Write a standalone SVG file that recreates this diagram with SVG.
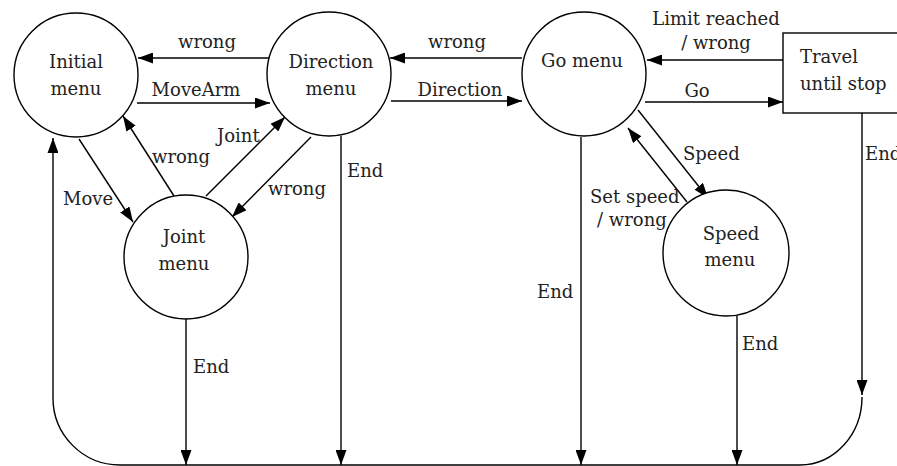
<svg xmlns="http://www.w3.org/2000/svg" width="897" height="466" viewBox="0 0 897 466">
<defs>
<marker id="ah" markerWidth="15" markerHeight="11" refX="15" refY="5.5" orient="auto" markerUnits="userSpaceOnUse">
<path d="M0,0 L15,5.5 L0,11 z" fill="#000"/>
</marker>
<style>
.n{fill:#fff;stroke:#000;stroke-width:1.4}
.c{fill:none;stroke:#000;stroke-width:1.4}
.a{marker-end:url(#ah)}
.m{text-anchor:middle}
</style>
</defs>
<rect width="897" height="466" fill="#fff"/>
<g font-family="'DejaVu Serif', serif" font-size="18" fill="#222">
<g id="connectors">
<path class="c a" d="M270,58 H138"/>
<path class="c a" d="M137,103 H270"/>
<path class="c a" d="M522,58 H390"/>
<path class="c a" d="M391,101 H522"/>
<path class="c a" d="M783,60 H647"/>
<path class="c a" d="M645,102 H783"/>
<path class="c a" d="M79,139 L133,222"/>
<path class="c a" d="M174,196 L123,116"/>
<path class="c a" d="M206,196 L285,117"/>
<path class="c a" d="M311,137 L232,217"/>
<path class="c a" d="M638,110 L708,198"/>
<path class="c a" d="M687,202 L628,128"/>
<path class="c a" d="M186,319 V465"/>
<path class="c a" d="M341,136 V465"/>
<path class="c a" d="M581,137 V465"/>
<path class="c a" d="M737,316 V465"/>
<path class="c a" d="M862,113 V395"/>
<path class="c" d="M862,397 A62,68 0 0 1 800,465"/>
<path class="c a" d="M800,465 H120 A67,67 0 0 1 53,398 V138"/>
<text x="207" y="48" class="m">wrong</text>
<text x="196" y="96" class="m">MoveArm</text>
<text x="457" y="48" class="m">wrong</text>
<text x="460" y="96" class="m">Direction</text>
<text x="716" y="25" class="m">Limit reached</text>
<text x="716" y="49" class="m">/ wrong</text>
<text x="697" y="97" class="m">Go</text>
<text x="217" y="142">Joint</text>
<text x="152" y="163">wrong</text>
<text x="63" y="205">Move</text>
<text x="268" y="195">wrong</text>
<text x="347" y="177">End</text>
<text x="683" y="160">Speed</text>
<text x="590" y="203">Set speed</text>
<text x="597" y="226">/ wrong</text>
<text x="865" y="160">End</text>
<text x="193" y="373">End</text>
<text x="537" y="298">End</text>
<text x="742" y="350">End</text>
</g>
<g id="initial">
<circle class="n" cx="76" cy="75" r="62"/>
<text x="76" y="68" class="m">Initial</text>
<text x="76" y="95" class="m">menu</text>
</g>
<g id="direction">
<circle class="n" cx="329" cy="74" r="62"/>
<text x="331" y="68" class="m">Direction</text>
<text x="331" y="95" class="m">menu</text>
</g>
<g id="go">
<circle class="n" cx="584" cy="74" r="62"/>
<text x="582" y="67" class="m">Go menu</text>
</g>
<g id="travel">
<rect class="n" x="783" y="33" width="120" height="80"/>
<text x="800" y="63">Travel</text>
<text x="800" y="90">until stop</text>
</g>
<g id="joint">
<circle class="n" cx="186" cy="257" r="62"/>
<text x="184" y="243" class="m">Joint</text>
<text x="184" y="270" class="m">menu</text>
</g>
<g id="speed">
<circle class="n" cx="726" cy="253" r="63"/>
<text x="731" y="240" class="m">Speed</text>
<text x="730" y="266" class="m">menu</text>
</g>
</g>
</svg>
